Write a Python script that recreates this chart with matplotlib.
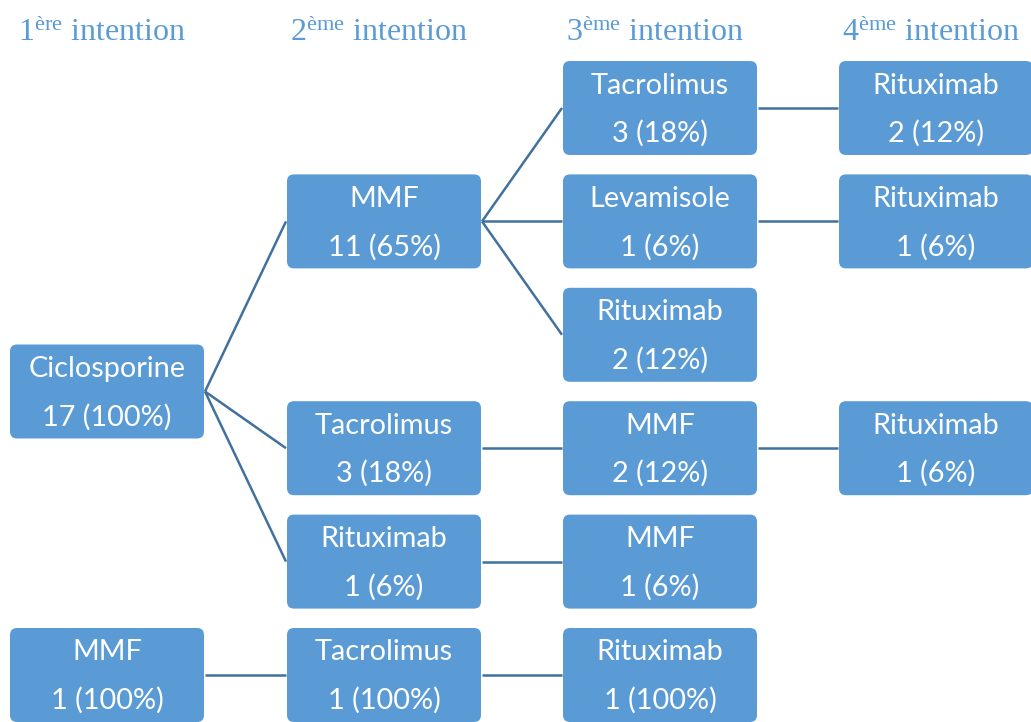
import matplotlib
matplotlib.use("Agg")
import matplotlib.pyplot as plt
from matplotlib.patches import FancyBboxPatch

# ---- data ----
levels = ["1", "2", "3", "4"]
level_sup = ["ère", "ème", "ème", "ème"]
node_names = ["Ciclosporine", "MMF", "Tacrolimus", "Rituximab",
              "Tacrolimus", "Levamisole", "Rituximab", "MMF", "MMF",
              "Rituximab", "Rituximab", "Rituximab",
              "MMF", "Tacrolimus", "Rituximab"]
node_counts = [17, 11, 3, 1, 3, 1, 2, 2, 1, 2, 1, 1, 1, 1, 1]
node_pcts = [100, 65, 18, 6, 18, 6, 12, 12, 6, 12, 6, 6, 100, 100, 100]
node_level = [0, 1, 1, 1, 2, 2, 2, 2, 2, 3, 3, 3, 0, 1, 2]
node_row = [2.5, 1, 3, 4, 0, 1, 2, 3, 4, 0, 1, 3, 5, 5, 5]
edges = [(0, 1), (0, 2), (0, 3), (1, 4), (1, 5), (1, 6), (2, 7), (3, 8),
         (4, 9), (5, 10), (7, 11), (12, 13), (13, 14)]

# ---- style / layout ----
BOX = "#5B9BD5"
LINE = "#41719C"
col_x0 = [10, 287, 563, 839]
box_w, box_h = 194, 94
row_top0, row_step = 61, 113.4

fig = plt.figure(figsize=(10.31, 7.22), dpi=100)
ax = fig.add_axes([0, 0, 1, 1])
ax.set_xlim(0, 1031)
ax.set_ylim(722, 0)
ax.axis("off")

plt.rcParams["mathtext.fontset"] = "custom"
plt.rcParams["mathtext.rm"] = "Liberation Serif"
plt.rcParams["mathtext.it"] = "Liberation Serif"

def box_geom(i):
    x0 = col_x0[node_level[i]]
    y0 = row_top0 + node_row[i] * row_step
    return x0, y0

for a, b in edges:
    ax0, ay0 = box_geom(a)
    bx0, by0 = box_geom(b)
    ax.plot([ax0 + box_w + 1, bx0 - 1], [ay0 + box_h / 2, by0 + box_h / 2],
            color=LINE, lw=1.8, solid_capstyle="butt", zorder=1)

for i, name in enumerate(node_names):
    x0, y0 = box_geom(i)
    p = FancyBboxPatch((x0 + 7, y0 + 7), box_w - 14, box_h - 14,
                       boxstyle="round,pad=7", fc=BOX, ec="none", zorder=2)
    ax.add_patch(p)
    cx = x0 + box_w / 2
    ax.text(cx, y0 + 24.5, name, color="white", fontsize=20.8, family="Lato",
            ha="center", va="center", zorder=3)
    ax.text(cx, y0 + 72.5, f"{node_counts[i]} ({node_pcts[i]}%)", color="white",
            fontsize=20.8, family="Lato", ha="center", va="center", zorder=3)

for k, (lv, sup) in enumerate(zip(levels, level_sup)):
    cx = col_x0[k] + box_w / 2 - 5
    ax.text(cx, 41, lv + r"$^{\mathrm{" + sup + r"}}$ intention", color=BOX,
            fontsize=23, family="Liberation Serif", ha="center", va="baseline")

fig.savefig("out.png", dpi=100)
